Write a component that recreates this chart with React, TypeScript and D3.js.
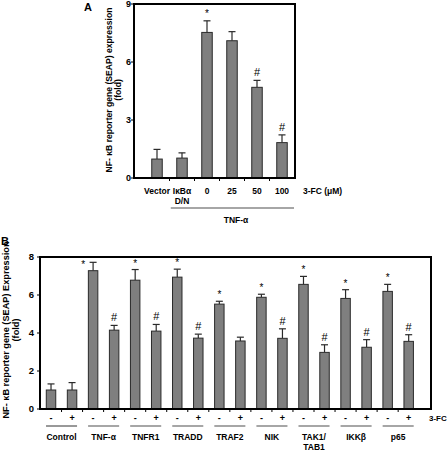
import React from "react";
import * as d3 from "d3";

// ---------- Panel A data ----------
const catsA = ["Vector", "IκBα", "0", "25", "50", "100"];
const catsA2 = ["", "D/N", "", "", "", ""];
const valsA = [0.98, 1.03, 7.53, 7.1, 4.69, 1.83];
const errA = [0.5, 0.27, 0.6, 0.47, 0.36, 0.4];
const markA = ["", "", "*", "", "#", "#"];
const ticksA = [0, 3, 6, 9];

// ---------- Panel B data ----------
const groupsB = ["Control", "TNF-α", "TNFR1", "TRADD", "TRAF2", "NIK", "TAK1/", "IKKβ", "p65"];
const groupsB2 = ["", "", "", "", "", "", "TAB1", "", ""];
const signsB = ["-", "+"];
const valsB = [1.0, 1.0, 7.28, 4.15, 6.78, 4.1, 6.94, 3.73, 5.52, 3.58, 5.88, 3.72, 6.56, 2.98, 5.82, 3.25, 6.19, 3.56];
const errB = [0.32, 0.39, 0.44, 0.25, 0.56, 0.35, 0.42, 0.21, 0.15, 0.2, 0.16, 0.5, 0.42, 0.4, 0.46, 0.4, 0.37, 0.35];
const markB = ["", "", "*", "#", "*", "#", "*", "#", "*", "", "*", "#", "*", "#", "*", "#", "*", "#"];
const ticksB = [0, 2, 4, 6, 8];

const FONT = "'Liberation Sans', Arial, sans-serif";
const BAR_FILL = "#7f7f7f";
const BAR_STROKE = "#2a2a2a";

export default function App() {
  // Panel A scales
  const xA = d3.scaleBand<string>().domain(catsA.map((_, i) => String(i))).range([144.5, 294.5]).paddingInner(0.58).paddingOuter(0.29);
  const yA = d3.scaleLinear().domain([0, 9]).range([178, 4]);
  const boxA = { x0: 134, x1: 295 };

  // Panel B scales
  const idsB = valsB.map((_, i) => String(i));
  const xB = d3.scaleBand<string>().domain(idsB).range([40.5, 419.2]).paddingInner(0.55).paddingOuter(0.275);
  const yB = d3.scaleLinear().domain([0, 8]).range([409, 257]);
  const boxB = { x0: 40, x1: 431 };

  const bwA = xA.bandwidth();
  const bwB = xB.bandwidth();
  const stepA = xA.step();
  const stepB = xB.step();

  return (
    <svg width={448} height={450} style={{ position: "absolute", left: 0, top: 0, background: "#fff" }} fontFamily={FONT} fontWeight="bold">
      {/* ===== Panel A ===== */}
      <text x={84} y={11} fontSize={11}>A</text>
      <g transform="translate(109,90) rotate(-90)">
        <text textAnchor="middle" fontSize={8.6} y={0} dy="0.35em">NF- κB reporter gene (SEAP) expression</text>
        <text textAnchor="middle" fontSize={8.6} y={9} dy="0.35em">(fold)</text>
      </g>
      {ticksA.map((t) => (
        <g key={"ta" + t}>
          <line x1={boxA.x0 - 3} x2={boxA.x0} y1={yA(t)} y2={yA(t)} stroke="#000" strokeWidth={1} />
          <text x={131} y={yA(t)} dy="0.35em" textAnchor="end" fontSize={9}>{t}</text>
        </g>
      ))}
      {catsA.map((c, i) => {
        const x = xA(String(i))!;
        const cx = x + bwA / 2;
        const top = yA(valsA[i] + errA[i]);
        return (
          <g key={"ba" + i}>
            <line x1={cx} x2={cx} y1={yA(valsA[i])} y2={top} stroke={BAR_STROKE} strokeWidth={1.2} />
            <line x1={cx - 3.5} x2={cx + 3.5} y1={top} y2={top} stroke={BAR_STROKE} strokeWidth={1.2} />
            <rect x={x} y={yA(valsA[i])} width={bwA} height={yA(0) - yA(valsA[i])} fill={BAR_FILL} stroke={BAR_STROKE} strokeWidth={1} />
            {markA[i] && (
              <text x={cx} y={top - 4} textAnchor="middle" fontSize={markA[i] === "*" ? 10 : 11} fontWeight="normal">{markA[i]}</text>
            )}
            {i > 0 && <line x1={x - (stepA - bwA) / 2} x2={x - (stepA - bwA) / 2} y1={yA(0)} y2={yA(0) + 3} stroke="#000" />}
            <text x={cx} y={194} textAnchor="middle" fontSize={8.5}>{c}</text>
            {catsA2[i] && <text x={cx} y={203.5} textAnchor="middle" fontSize={8.5}>{catsA2[i]}</text>}
          </g>
        );
      })}
      <rect x={boxA.x0} y={yA(9)} width={boxA.x1 - boxA.x0} height={yA(0) - yA(9)} fill="none" stroke="#000" strokeWidth={2} />
      <text x={303} y={194} fontSize={8.5}>3-FC (μM)</text>
      <line x1={xA("1")! - 6} x2={boxA.x1 - 1} y1={208} y2={208} stroke="#888" strokeWidth={1.5} />
      <text x={236} y={222.5} textAnchor="middle" fontSize={8.5}>TNF-α</text>

      {/* ===== Panel B ===== */}
      <text x={1} y={245} fontSize={11}>B</text>
      <g transform="translate(6,330) rotate(-90)">
        <text textAnchor="middle" fontSize={9.2} y={0} dy="0.35em">NF- κB reporter gene (SEAP) Expression</text>
        <text textAnchor="middle" fontSize={9.2} y={10} dy="0.35em">(fold)</text>
      </g>
      {ticksB.map((t) => (
        <g key={"tb" + t}>
          <line x1={boxB.x0 - 3} x2={boxB.x0} y1={yB(t)} y2={yB(t)} stroke="#000" strokeWidth={1} />
          <text x={34} y={yB(t)} dy="0.35em" textAnchor="end" fontSize={9.5}>{t}</text>
        </g>
      ))}
      {valsB.map((v, i) => {
        const x = xB(String(i))!;
        const cx = x + bwB / 2;
        const top = yB(v + errB[i]);
        const leftStar = i === 2;
        return (
          <g key={"bb" + i}>
            <line x1={cx} x2={cx} y1={yB(v)} y2={top} stroke={BAR_STROKE} strokeWidth={1.2} />
            <line x1={cx - 3.5} x2={cx + 3.5} y1={top} y2={top} stroke={BAR_STROKE} strokeWidth={1.2} />
            <rect x={x} y={yB(v)} width={bwB} height={yB(0) - yB(v)} fill={BAR_FILL} stroke={BAR_STROKE} strokeWidth={1} />
            {markB[i] && (
              <text
                x={leftStar ? cx - 10 : cx}
                y={leftStar ? top + 6 : markB[i] === "*" ? top - 3 : top - 4}
                textAnchor="middle"
                fontSize={markB[i] === "*" ? 10 : 11}
                fontWeight="normal"
              >
                {markB[i]}
              </text>
            )}
            {i > 0 && <line x1={x - (stepB - bwB) / 2} x2={x - (stepB - bwB) / 2} y1={yB(0)} y2={yB(0) + 3} stroke="#000" />}
            <text x={cx} y={421} textAnchor="middle" fontSize={9}>{signsB[i % 2]}</text>
          </g>
        );
      })}
      <rect x={boxB.x0} y={yB(8)} width={boxB.x1 - boxB.x0} height={yB(0) - yB(8)} fill="none" stroke="#000" strokeWidth={2} />
      <text x={429} y={421} fontSize={8}>3-FC</text>
      {groupsB.map((g, gi) => {
        const a = xB(String(gi * 2))! + bwB / 2;
        const b = xB(String(gi * 2 + 1))! + bwB / 2;
        const mid = (a + b) / 2;
        return (
          <g key={"g" + gi}>
            <line x1={a - 5} x2={b + 5} y1={426} y2={426} stroke={gi === 0 ? "#333" : "#888"} strokeWidth={gi === 0 ? 1 : 1.5} />
            <text x={mid} y={440} textAnchor="middle" fontSize={8.5}>{g}</text>
            {groupsB2[gi] && <text x={mid} y={449.5} textAnchor="middle" fontSize={8.5}>{groupsB2[gi]}</text>}
          </g>
        );
      })}
    </svg>
  );
}
